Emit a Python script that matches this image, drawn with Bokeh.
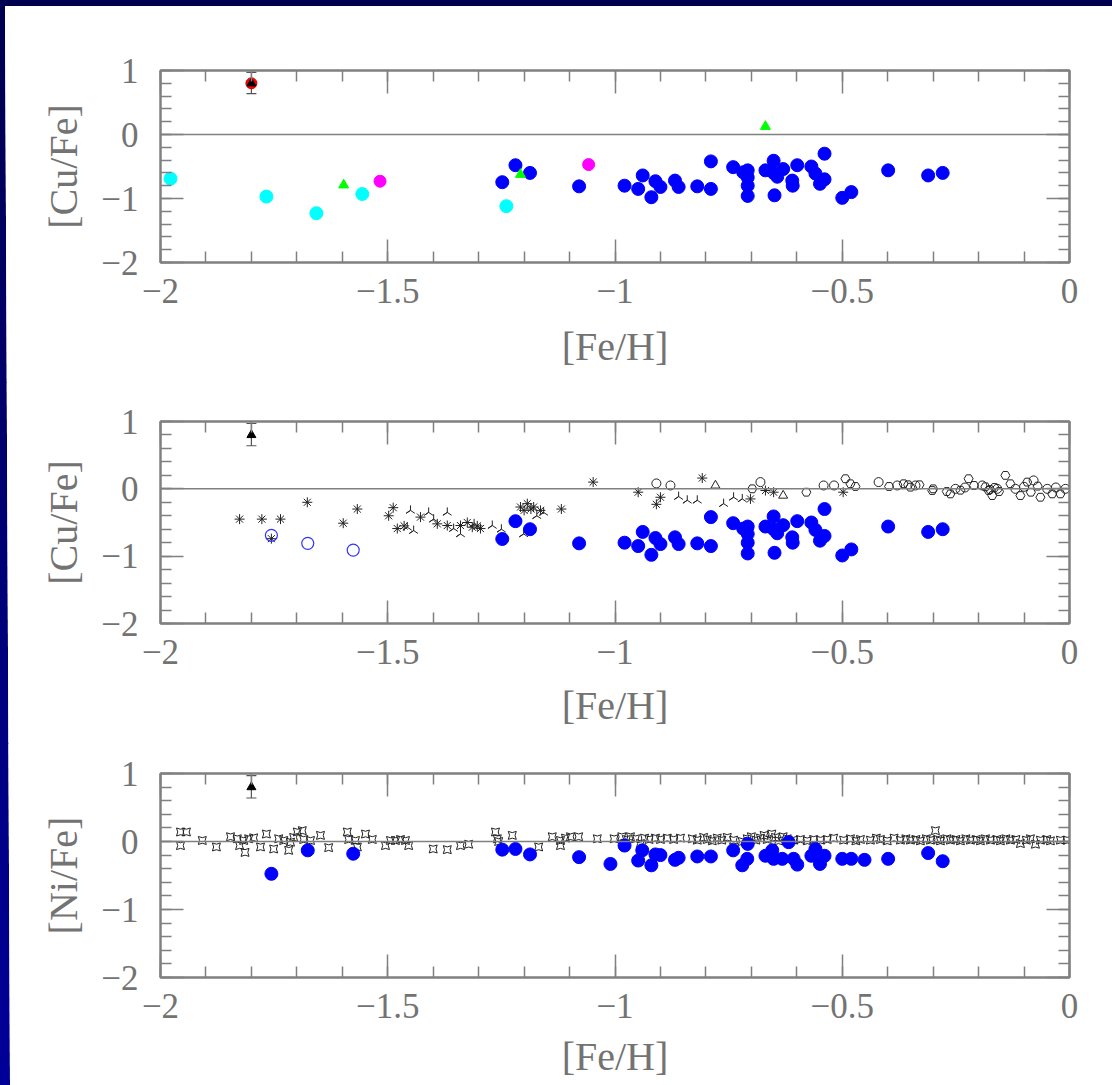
import numpy as np
from bokeh.plotting import figure
from bokeh.layouts import column
from bokeh.models import (Range1d, LinearAxis, FixedTicker, CustomJSTickFormatter,
                          Span, Whisker, TeeHead, ColumnDataSource)
from bokeh.embed import file_html
from bokeh.resources import INLINE

# ---------------- data ----------------
# Panel 1 : [Cu/Fe] vs [Fe/H]
cyan_feh = [-1.978, -1.767, -1.657, -1.556, -1.239]
cyan_cu = [-0.69, -0.97, -1.23, -0.93, -1.12]
magenta_feh = [-1.517, -1.058]
magenta_cu = [-0.73, -0.47]
green_feh = [-1.597, -1.208, -0.669]
green_cu = [-0.79, -0.625, 0.125]
blue_feh = [-1.248, -1.219, -1.187, -1.079, -0.979, -0.949, -0.939, -0.920, -0.911, -0.900,
            -0.868, -0.860, -0.819, -0.789, -0.789, -0.740, -0.718, -0.708, -0.708, -0.708,
            -0.708, -0.669, -0.651, -0.651, -0.643, -0.649, -0.630, -0.610, -0.609, -0.599,
            -0.568, -0.559, -0.549, -0.539, -0.539, -0.500, -0.480, -0.399, -0.311, -0.279]
blue_cu = [-0.745, -0.48, -0.60, -0.81, -0.80, -0.85, -0.64, -0.98, -0.73, -0.82,
           -0.72, -0.82, -0.81, -0.42, -0.85, -0.51, -0.59, -0.56, -0.67, -0.80,
           -0.96, -0.56, -0.41, -0.60, -0.66, -0.95, -0.54, -0.72, -0.80, -0.48,
           -0.50, -0.61, -0.77, -0.70, -0.30, -0.99, -0.90, -0.56, -0.64, -0.60]
ref_feh = [-1.80]
ref_cu = [0.80]
ref_cu_hi = [0.97]
ref_cu_lo = [0.64]

# Panel 2 : comparison samples
open_blue_feh = [-1.756, -1.676, -1.576]
open_blue_cu = [-0.69, -0.81, -0.91]
ast_feh = [-1.826, -1.777, -1.736, -1.756, -1.677, -1.598, -1.567, -1.498, -1.488, -1.479,
           -1.464, -1.428, -1.391, -1.369, -1.340, -1.325, -1.314, -1.303, -1.296, -1.208,
           -1.200, -1.193, -1.185, -1.179, -1.164, -1.118, -1.048, -0.949, -0.900, -0.909,
           -0.808, -0.702, -0.669, -0.651, -0.498]
ast_cu = [-0.45, -0.45, -0.45, -0.74, -0.20, -0.51, -0.30, -0.40, -0.28, -0.59,
          -0.55, -0.42, -0.52, -0.545, -0.545, -0.50, -0.57, -0.55, -0.59, -0.27,
          -0.32, -0.22, -0.30, -0.27, -0.32, -0.30, 0.10, -0.05, -0.125, -0.23,
          0.16, -0.15, -0.025, -0.05, -0.05]
tri_feh = [-1.457, -1.443, -1.450, -1.410, -1.399, -1.369, -1.355, -1.340, -1.310, -1.270,
           -1.250, -1.201, -1.157, -1.172, -0.860, -0.841, -0.819, -0.761, -0.739, -0.720]
tri_cu = [-0.57, -0.62, -0.32, -0.35, -0.45, -0.35, -0.59, -0.67, -0.52, -0.545,
          -0.60, -0.67, -0.35, -0.40, -0.115, -0.17, -0.17, -0.22, -0.125, -0.15]
ocirc_feh = [-0.909, -0.878, -0.680, -0.541, -0.518, -0.420, -0.379, -0.339, -0.251, -0.192,
             -0.159, -0.119, -0.079, -0.049, -0.009, -0.230, -0.100, -0.030]
ocirc_cu = [0.08, 0.05, 0.10, 0.05, 0.05, 0.10, 0.05, 0.05, 0.0, 0.05,
            0.0, 0.0, 0.125, 0.0, 0.0, 0.02, 0.03, 0.02]
otri_feh = [-0.779, -0.630]
otri_cu = [0.05, -0.10]
opent_feh = [-0.698, -0.579, -0.493, -0.482, -0.471, -0.397, -0.365, -0.350, -0.302, -0.262,
             -0.222, -0.210, -0.178, -0.170, -0.141, -0.130, -0.108, -0.093, -0.064, -0.038,
             -0.020, -0.175, -0.165, -0.155, -0.185, -0.330, -0.355, -0.300, -0.270, -0.240,
             -0.085, -0.070]
opent_cu = [0.0, -0.05, 0.15, 0.075, 0.035, 0.035, 0.075, 0.025, -0.025, -0.075,
            0.15, 0.05, -0.025, -0.10, 0.20, 0.075, -0.10, 0.10, -0.125, -0.075,
            -0.075, -0.01, 0.02, -0.04, 0.03, 0.06, 0.06, 0.0, -0.04, -0.02,
            -0.05, 0.04]

# Panel 3 : [Ni/Fe]
blue_ni_feh = [-1.756, -1.676, -1.576, -1.248, -1.219, -1.187, -1.079, -1.010, -0.979, -0.949,
               -0.940, -0.920, -0.911, -0.900, -0.868, -0.860, -0.819, -0.789, -0.740, -0.720,
               -0.709, -0.708, -0.669, -0.654, -0.651, -0.632, -0.618, -0.607, -0.599, -0.568,
               -0.559, -0.549, -0.539, -0.500, -0.480, -0.451, -0.399, -0.311, -0.279]
blue_ni = [-0.475, -0.13, -0.18, -0.12, -0.11, -0.19, -0.23, -0.33, -0.06, -0.28,
           -0.13, -0.35, -0.19, -0.20, -0.27, -0.24, -0.22, -0.22, -0.13, -0.35,
           -0.255, -0.035, -0.21, -0.13, -0.255, -0.255, -0.01, -0.255, -0.34, -0.21,
           -0.11, -0.33, -0.21, -0.255, -0.255, -0.27, -0.255, -0.17, -0.29]
cmp_ni_feh = [-1.956, -1.956, -1.943, -1.908, -1.877, -1.846, -1.831, -1.817, -1.806, -1.795,
              -1.826, -1.814, -1.780, -1.767, -1.751, -1.740, -1.729, -1.718, -1.714, -1.707,
              -1.699, -1.688, -1.685, -1.670, -1.648, -1.630, -1.589, -1.586, -1.571, -1.567,
              -1.549, -1.534, -1.505, -1.494, -1.483, -1.472, -1.461, -1.454, -1.400, -1.369,
              -1.340, -1.322, -1.263, -1.259, -1.256, -1.226, -1.168, -1.138, -1.120, -1.109,
              -1.098, -1.080, -1.120, -1.039,
              -1.002, -0.985, -0.975, -0.966, -0.955, -0.944, -0.935, -0.925, -0.911, -0.900,
              -0.885, -0.871, -0.856, -0.830, -0.819, -0.805, -0.797, -0.786, -0.775, -0.765,
              -0.753, -0.739, -0.720, -0.709, -0.700, -0.690, -0.680, -0.672, -0.665, -0.655,
              -0.647, -0.640, -0.630, -0.621, -0.607, -0.592, -0.577, -0.563, -0.548, -0.533,
              -0.519, -0.497, -0.482, -0.470, -0.460, -0.438, -0.425, -0.416, -0.401, -0.386,
              -0.372, -0.360, -0.350, -0.338, -0.328, -0.315, -0.306, -0.295, -0.290, -0.284,
              -0.270, -0.262, -0.250, -0.240, -0.228, -0.218, -0.205, -0.196, -0.185, -0.174,
              -0.160, -0.152, -0.140, -0.130, -0.118, -0.108, -0.095, -0.086, -0.075, -0.064,
              -0.050, -0.042, -0.020, -0.005]
cmp_ni = [0.14, -0.06, 0.14, 0.015, -0.08, 0.07, 0.04, 0.015, 0.04, 0.054,
          -0.06, -0.16, -0.08, 0.11, -0.11, 0.04, 0.015, -0.13, -0.01, 0.06,
          0.14, 0.16, 0.03, 0.015, 0.09, -0.09, 0.14, 0.03, 0.015, -0.08,
          0.11, 0.03, -0.06, 0.015, 0.015, 0.03, 0.015, -0.06, -0.11, -0.12,
          -0.06, -0.04, 0.14, 0.04, 0.0, 0.09, -0.08, 0.07, 0.015, 0.05,
          0.07, 0.07, -0.06, 0.04,
          0.04, 0.07, 0.03, 0.07, 0.04, -0.03, 0.05, 0.03, 0.05, 0.03,
          0.05, 0.03, 0.05, 0.04, 0.02, 0.06, 0.03, 0.01, 0.05, 0.02,
          0.06, 0.02, 0.0, 0.04, 0.07, 0.02, 0.05, 0.09, 0.03, 0.11,
          0.06, 0.01, 0.07, 0.04, 0.02, 0.03, 0.01, 0.03, 0.02, 0.03,
          0.05, 0.02, 0.04, 0.01, 0.03, 0.02, 0.05, 0.03, 0.01, 0.05,
          0.02, 0.04, 0.02, 0.03, 0.01, 0.04, 0.02, 0.16, 0.03, 0.01,
          0.04, 0.02, 0.03, 0.01, 0.04, 0.02, 0.03, 0.01, 0.04, 0.02,
          0.03, 0.01, 0.04, 0.02, 0.03, -0.03, 0.02, 0.04, -0.04, 0.02,
          0.03, 0.01, 0.02, 0.02]

x_major = [-2, -1.5, -1, -0.5, 0]
x_minor = [round(-2 + 0.1 * i, 2) for i in range(21)]
y_major = [-2, -1, 0, 1]
y_minor = [round(-2 + 0.2 * i, 2) for i in range(16)]

# ---------------- styling ----------------
GRAY = "#808080"
TXT = "#737373"
FONT = "Liberation Serif"
FIG_W = 1112
LEFT = 160
FRAME_W = 909

minus_fmt = CustomJSTickFormatter(code="return (tick < 0 ? '\u2212' : '') + Math.abs(tick).toString();")


def style_axis(ax, ticks, minor, show_labels):
    ax.ticker = FixedTicker(ticks=ticks, minor_ticks=minor)
    ax.major_tick_in = 23
    ax.major_tick_out = 0
    ax.minor_tick_in = 11
    ax.minor_tick_out = 0
    ax.major_tick_line_color = GRAY
    ax.minor_tick_line_color = GRAY
    ax.major_tick_line_width = 1.5
    ax.minor_tick_line_width = 1.5
    ax.axis_line_color = GRAY
    ax.axis_line_width = 2
    if show_labels:
        ax.formatter = minus_fmt
        ax.major_label_text_font = FONT
        ax.major_label_text_font_size = "35px"
        ax.major_label_text_color = TXT
        ax.axis_label_text_font = FONT
        ax.axis_label_text_font_size = "40px"
        ax.axis_label_text_font_style = "normal"
        ax.axis_label_text_color = TXT
    else:
        ax.formatter = CustomJSTickFormatter(code="return '';")
        ax.major_label_text_font_size = "0px"


def make_panel(height, top, frame_h, ylabel, tick_standoff, label_standoff):
    bottom = height - top - frame_h
    p = figure(width=FIG_W, height=height, output_backend="svg", toolbar_location=None,
               x_range=Range1d(-2, 0), y_range=Range1d(-2, 1),
               min_border_left=LEFT, min_border_right=FIG_W - LEFT - FRAME_W,
               min_border_top=top, min_border_bottom=bottom,
               background_fill_color="white", border_fill_color="white",
               outline_line_color=GRAY, outline_line_width=2)
    p.xgrid.visible = False
    p.ygrid.visible = False
    p.add_layout(LinearAxis(), "above")
    p.add_layout(LinearAxis(), "right")
    style_axis(p.below[0], x_major, x_minor, True)
    style_axis(p.left[0], y_major, y_minor, True)
    style_axis(p.above[0], x_major, x_minor, False)
    style_axis(p.right[0], y_major, y_minor, False)
    p.below[0].axis_label = "[Fe/H]"
    p.left[0].axis_label = ylabel
    p.below[0].major_label_standoff = tick_standoff
    p.below[0].axis_label_standoff = label_standoff
    p.left[0].major_label_standoff = 22
    p.left[0].axis_label_standoff = 12
    p.add_layout(Span(location=0, dimension="width", line_color=GRAY, line_width=1.5))
    return p


def add_ref(p, red=False):
    src = ColumnDataSource(dict(x=ref_feh, y=ref_cu, hi=ref_cu_hi, lo=ref_cu_lo))
    w = Whisker(source=src, base="x", upper="hi", lower="lo", dimension="height",
                line_color="#555555", line_width=1.2,
                upper_head=TeeHead(size=10, line_color="#555555", line_width=1.2),
                lower_head=TeeHead(size=10, line_color="#555555", line_width=1.2))
    p.add_layout(w)
    if red:
        p.scatter(ref_feh, ref_cu, marker="circle", size=11, fill_color="#ff0000", line_color="#cc0000")
    p.scatter(ref_feh, ref_cu, marker="triangle", size=9, fill_color="black", line_color="black")


# Panel 1
p1 = make_panel(382, 70, 192, "[Cu/Fe]", 16, 18)
add_ref(p1, red=True)
p1.scatter(cyan_feh, cyan_cu, marker="circle", size=13, fill_color="#00ffff", line_color="#00ffff")
p1.scatter(magenta_feh, magenta_cu, marker="circle", size=12, fill_color="#ff00ff", line_color="#ff00ff")
p1.scatter(blue_feh, blue_cu, marker="circle", size=13, fill_color="#0000ff", line_color="#0000ff")
p1.scatter(green_feh, green_cu, marker="triangle", size=10, fill_color="#00ff00", line_color="#00ff00")

# Panel 2
p2 = make_panel(361, 39, 202, "[Cu/Fe]", 16, 16)
add_ref(p2)
p2.scatter(ast_feh, ast_cu, marker="asterisk", size=10, line_color="#222222", line_width=1)
p2.scatter(tri_feh, tri_cu, marker="y", angle=np.pi, size=10, line_color="#222222", line_width=1)
p2.scatter(ocirc_feh, ocirc_cu, marker="circle", size=9, fill_color=None, line_color="#222222", line_width=1)
p2.scatter(otri_feh, otri_cu, marker="triangle", size=9, fill_color=None, line_color="#222222", line_width=1)
p2.scatter(opent_feh, opent_cu, marker="hex", size=9, fill_color=None, line_color="#222222", line_width=1)
p2.scatter(open_blue_feh, open_blue_cu, marker="circle", size=12, fill_color=None, line_color="#3333ff", line_width=1.2)
p2.scatter(blue_feh, blue_cu, marker="circle", size=13, fill_color="#0000ff", line_color="#0000ff")

# Panel 3
p3 = make_panel(342, 30, 204, "[Ni/Fe]", 16, 13)
add_ref(p3)
p3.scatter(cmp_ni_feh, cmp_ni, marker="square_pin", size=8, fill_color=None, line_color="#222222", line_width=1)
p3.scatter(blue_ni_feh, blue_ni, marker="circle", size=13, fill_color="#0000ff", line_color="#0000ff")

inner = column(p1, p2, p3, spacing=0,
               styles={"background": "white",
                       "clip-path": "polygon(5px 6px, 100% 6px, 100% 100%, 10px 100%)"})
layout = column(inner, spacing=0,
                styles={"background": "linear-gradient(180deg, #000050 0%, #000099 100%)"})

open("out.html", "w").write(file_html(layout, INLINE))
